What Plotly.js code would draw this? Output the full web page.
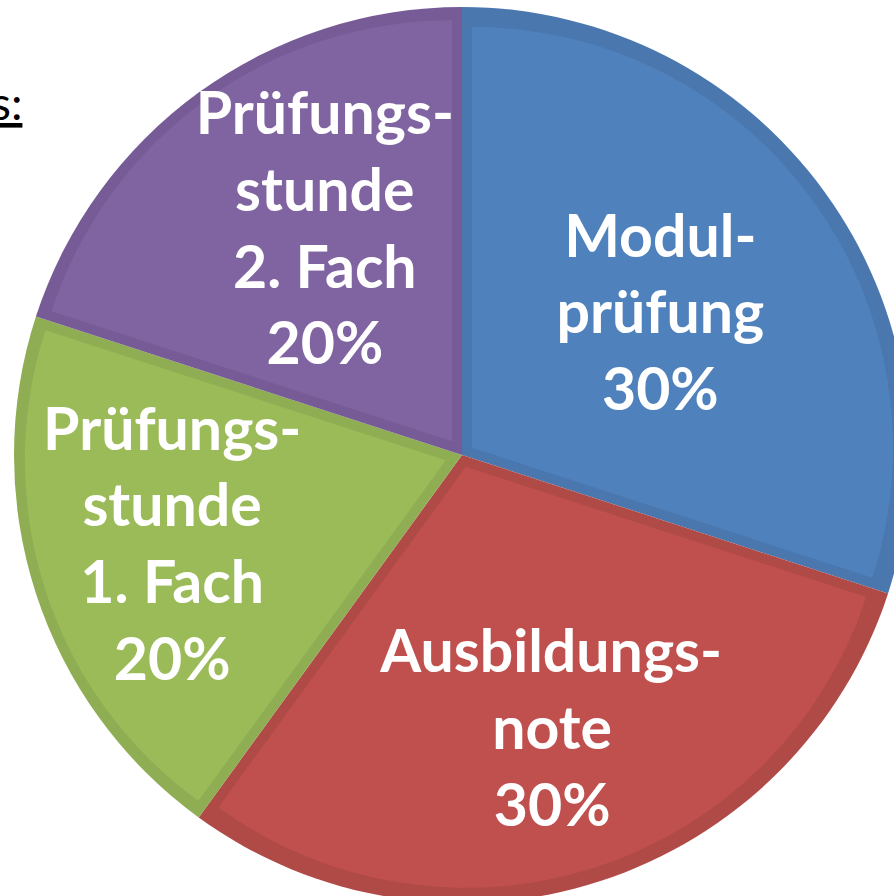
<!DOCTYPE html>
<html>
<head>
<meta charset="utf-8">
<script src="https://cdn.plot.ly/plotly-3.0.1.min.js"></script>
<style>
html,body{margin:0;padding:0;overflow:hidden;background:#fff;}
#chart{position:absolute;left:0;top:0;width:924px;height:910px;}
</style>
</head>
<body>
<div id="chart"></div>
<script>
// Data
var labels = ["Modul-<br>prüfung", "Ausbildungs-<br>note", "Prüfungs-<br>stunde<br>1. Fach", "Prüfungs-<br>stunde<br>2. Fach"];
var values = [30, 30, 20, 20];
var fillColors = ["#4F81BD", "#C0504D", "#9BBB59", "#8064A2"];
var edgeColors = ["#4A77AE", "#B04A47", "#8FAD52", "#765B96"];
var insetPull = [0.0295, 0.0295, 0.0404, 0.0404];

// label layout nudges (non-breaking space padding per line, blank lines on top)
var padLeft = [0, 2, 0, 4];
var padRight = [0, 0, 3, 0];
var blankTop = [0, 1, 0, 0];
var NB = "\u00A0";
function rep(n) { var s = ""; for (var i = 0; i < n; i++) s += NB; return s; }
var shown = labels.map(function (lab, i) {
  var lines = lab.split("<br>").concat([Math.round(values[i]) + "%"]);
  lines = lines.map(function (ln) { return rep(padLeft[i]) + ln + rep(padRight[i]); });
  for (var k = 0; k < blankTop[i]; k++) lines.unshift(NB);
  return lines.join("<br>");
});

var base = {
  type: "pie",
  values: values,
  labels: labels,
  sort: false,
  direction: "clockwise",
  rotation: 0,
  hoverinfo: "skip",
  showlegend: false
};

var outer = Object.assign({}, base, {
  marker: {colors: edgeColors, line: {width: 0}},
  textinfo: "none",
  domain: {x: [0, 1], y: [0, 1]}
});

var inner = Object.assign({}, base, {
  marker: {colors: fillColors, line: {width: 0}},
  pull: insetPull,
  text: shown,
  textinfo: "text",
  textposition: "inside",
  insidetextorientation: "horizontal",
  textfont: {family: "Lato, 'Noto Sans', sans-serif", size: 59, color: "#FFFFFF", weight: "bold"},
  domain: {x: [0, 1], y: [10/896, 886/896]}
});

var layout = {
  width: 924,
  height: 910,
  margin: {l: 0, r: 0, t: 7, b: 7},
  paper_bgcolor: "#FFFFFF",
  plot_bgcolor: "#FFFFFF",
  showlegend: false,
  uniformtext: {mode: "show", minsize: 59},
  annotations: [{
    xref: "paper", yref: "paper",
    x: 24/924, y: 1 - (103 - 7)/896,
    xanchor: "right", yanchor: "middle",
    text: "<u>s:</u>",
    showarrow: false,
    font: {family: "Lato, sans-serif", size: 46, color: "#000000"}
  }]
};

Plotly.newPlot("chart", [outer, inner], layout, {displayModeBar: false, staticPlot: true});
</script>
</body>
</html>
